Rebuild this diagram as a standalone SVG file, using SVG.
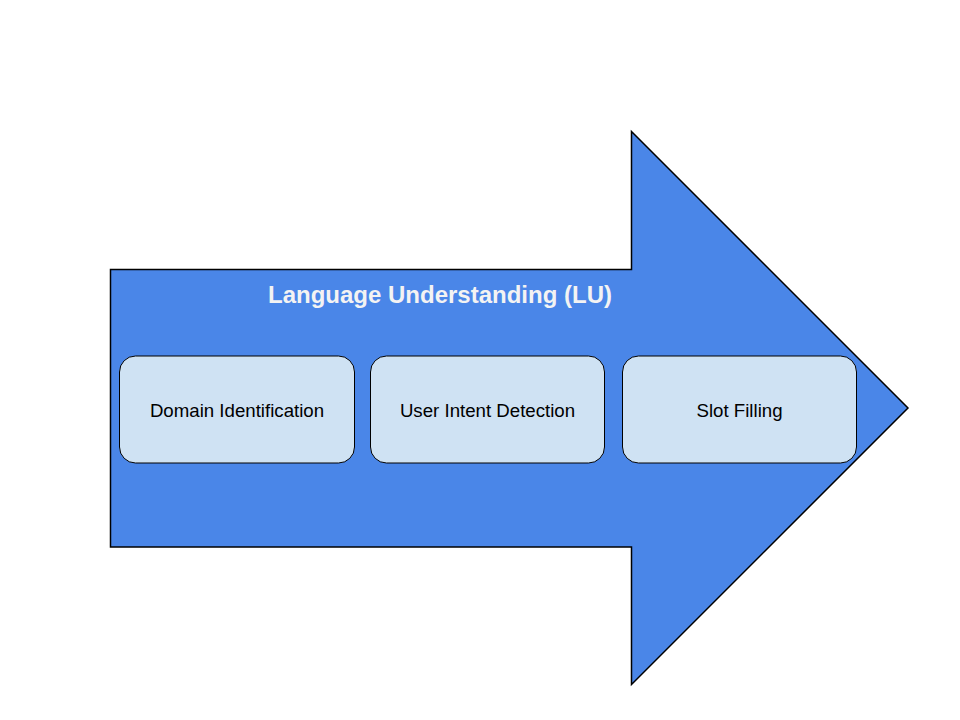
<svg xmlns="http://www.w3.org/2000/svg" width="960" height="720" viewBox="0 0 960 720">
<style>
.box{fill:#cfe2f3;stroke:#000;stroke-width:1}
.lbl{font-family:"Liberation Sans",Arial,sans-serif;font-size:18.67px;fill:#000;text-anchor:middle}
.title{font-family:"Liberation Sans",Arial,sans-serif;font-size:24px;font-weight:bold;fill:#f3f3f3;text-anchor:middle}
</style>
<rect width="960" height="720" fill="#fff"/>
<g id="arrow">
<polygon points="110.5,269.5 631.5,269.5 631.5,131.5 908,408 631.5,684.5 631.5,547 110.5,547" fill="#4a86e8" stroke="#000" stroke-width="1.5"/>
<text class="title" x="440" y="303">Language Understanding (LU)</text>
</g>
<g id="domain">
<rect class="box" x="119.5" y="356" width="235" height="107" rx="16"/>
<text class="lbl" x="237" y="417">Domain Identification</text>
</g>
<g id="intent">
<rect class="box" x="370.5" y="356" width="234" height="107" rx="16"/>
<text class="lbl" x="487.5" y="417">User Intent Detection</text>
</g>
<g id="slot">
<rect class="box" x="622.5" y="356" width="234" height="107" rx="16"/>
<text class="lbl" x="739.5" y="417">Slot Filling</text>
</g>
<g id="connectors"></g>
</svg>
